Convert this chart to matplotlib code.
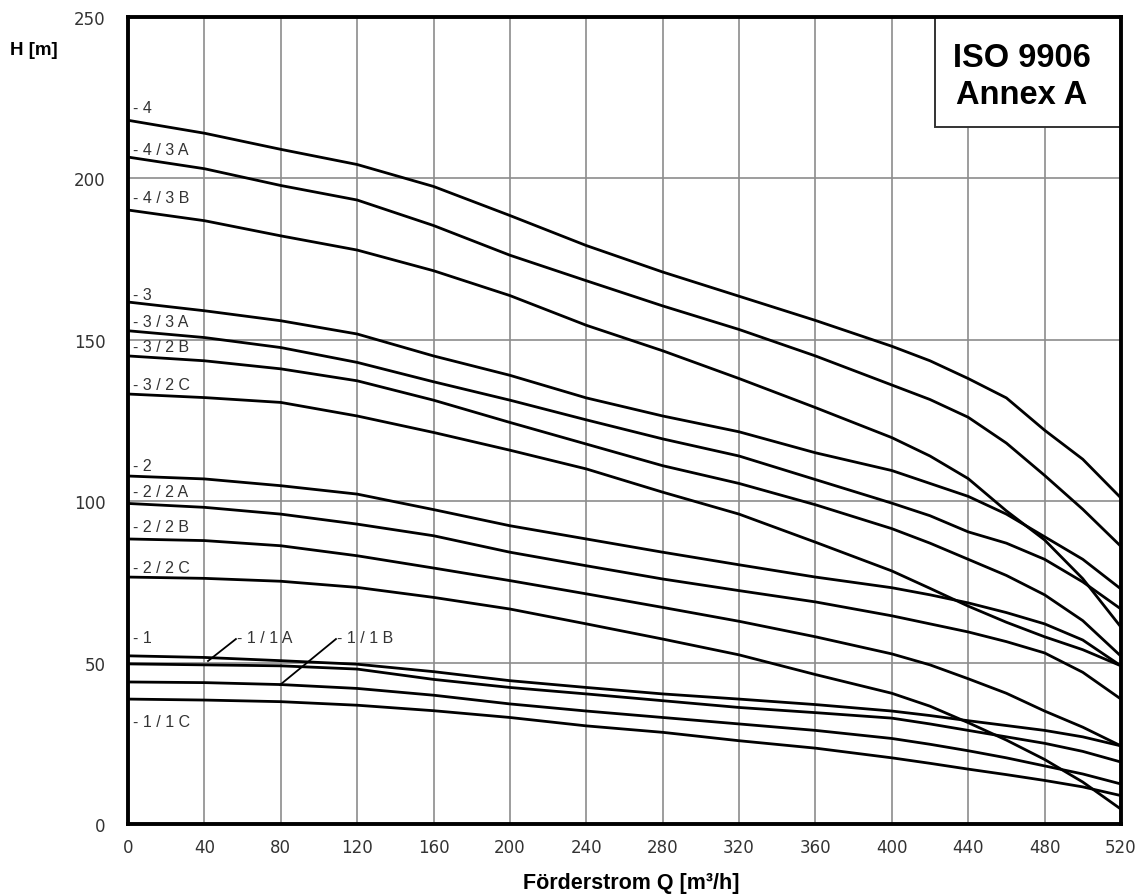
import matplotlib
matplotlib.use("Agg")
import matplotlib.pyplot as plt
from matplotlib.patches import Rectangle

# flow rate Q [m3/h] where the head values were read
q = [0, 40, 80, 120, 160, 200, 240, 280, 320, 360, 400, 420, 440, 460, 480, 500, 520]

h_4 = [218, 214, 209, 204.3, 197.5, 188.5, 179.2, 171, 163.5, 156, 148, 143.5, 138, 132, 122, 113, 101]
h_4_3a = [206.6, 203, 197.8, 193.3, 185.4, 176.2, 168.3, 160.5, 153.2, 145, 136, 131.5, 126, 118, 108, 97.5, 86]
h_4_3b = [190.2, 186.9, 182.2, 177.8, 171.4, 163.7, 154.5, 146.6, 138, 129, 119.7, 114, 107, 97, 88, 76, 61]
h_3 = [161.7, 159, 155.9, 151.8, 145, 139, 132, 126.4, 121.5, 115, 109.5, 105.5, 101.5, 96, 89, 82, 72.8]
h_3_3a = [152.8, 150.7, 147.6, 143, 137, 131.3, 125.2, 119.3, 114, 106.7, 99.4, 95.5, 90.5, 87, 82, 75, 66.6]
h_3_2b = [145, 143.5, 141, 137.3, 131.3, 124.4, 117.7, 111, 105.5, 98.9, 91.5, 87, 82, 77, 71, 63, 52]
h_3_2c = [133.2, 132.1, 130.6, 126.4, 121.3, 115.8, 110, 102.8, 96, 87.3, 78.4, 73, 67.5, 62.5, 58, 54, 49]
h_2 = [107.8, 106.9, 104.8, 102.2, 97.4, 92.4, 88.3, 84.2, 80.3, 76.5, 73.2, 71, 68.5, 65.5, 62, 57, 49]
h_2_2a = [99.3, 98.1, 96, 92.9, 89.3, 84.2, 80, 75.9, 72.3, 68.8, 64.5, 62, 59.5, 56.5, 53, 47, 38.7]
h_2_2b = [88.3, 87.8, 86.2, 83.1, 79.3, 75.4, 71.3, 67.1, 62.8, 58, 52.7, 49.3, 45, 40.5, 35, 30, 24.2]
h_2_2c = [76.5, 76.1, 75.2, 73.3, 70.2, 66.6, 62, 57.3, 52.4, 46.3, 40.5, 36.5, 31.4, 26, 20, 13, 4.6]
h_1 = [52.1, 51.6, 50.6, 49.5, 47.2, 44.4, 42.3, 40.3, 38.7, 37, 35, 33.6, 32, 30.5, 29, 27, 24.2]
h_1_1a = [49.6, 49.3, 49, 48, 44.8, 42.3, 40.3, 38.2, 36.1, 34.5, 32.8, 31, 29, 27, 25, 22.5, 19.2]
h_1_1b = [44, 43.8, 43.2, 42, 39.9, 37.2, 35, 33, 31, 29, 26.5, 24.7, 22.7, 20.5, 18, 15.5, 12.4]
h_1_1c = [38.7, 38.4, 37.9, 36.8, 35.1, 33, 30.4, 28.4, 25.8, 23.5, 20.5, 18.8, 17, 15.3, 13.5, 11.5, 8.8]

curves = [h_4, h_4_3a, h_4_3b, h_3, h_3_3a, h_3_2b, h_3_2c,
          h_2, h_2_2a, h_2_2b, h_2_2c, h_1, h_1_1a, h_1_1b, h_1_1c]

# curve names written at the left edge and the head where each sits
names = ["- 4", "- 4 / 3 A", "- 4 / 3 B", "- 3", "- 3 / 3 A", "- 3 / 2 B", "- 3 / 2 C",
         "- 2", "- 2 / 2 A", "- 2 / 2 B", "- 2 / 2 C", "- 1", "- 1 / 1 C"]
name_h = [222.1, 209.1, 194.2, 163.9, 155.8, 147.8, 136, 111.2, 102.9, 92.3, 79.6, 57.9, 31.9]

x_ticks = list(range(0, 521, 40))
y_ticks = [0, 50, 100, 150, 200, 250]

fig = plt.figure(figsize=(11.45, 8.95), dpi=100)
ax = fig.add_axes([0.1118, 0.0782, 0.8672, 0.9017])

for h in curves:
    ax.plot(q, h, color="black", lw=2.0, solid_joinstyle="round",
            solid_capstyle="round", zorder=3)

ax.set_xlim(0, 520)
ax.set_ylim(0, 250)
ax.set_xticks(x_ticks)
ax.set_yticks(y_ticks)
ax.grid(True, color="#8c8c8c", lw=1.2)
ax.set_axisbelow(True)
ax.tick_params(length=0, labelsize=12, colors="#333333")
ax.tick_params(axis="y", pad=16)
ax.tick_params(axis="x", pad=10)
for side in ["left", "bottom", "right", "top"]:
    ax.spines[side].set_linewidth(2.8)
    ax.spines[side].set_zorder(7)

lab_font = dict(fontsize=11.5, color="#333333", va="center", family="Liberation Sans")
for label, yv in zip(names, name_h):
    ax.text(2.5, yv, label, ha="left", zorder=4, **lab_font)

# the two labels reached by leader lines
ax.text(57, 57.9, "- 1 / 1 A", **lab_font)
ax.plot([41.9, 56.5], [50.5, 57.3], color="black", lw=1.3)
ax.text(109.5, 57.9, "- 1 / 1 B", **lab_font)
ax.plot([79.6, 108.9], [43.1, 57.3], color="black", lw=1.3)

# note box hanging from the top right corner
ax.add_patch(Rectangle((0.8127, 0.8637), 0.1873, 0.1363, transform=ax.transAxes,
                       fc="white", ec="#333333", lw=1.4, zorder=5))
ax.text(0.9003, 0.927, "ISO 9906\nAnnex A", transform=ax.transAxes, ha="center",
        va="center", multialignment="center", fontsize=23.5, fontweight="bold",
        family="Liberation Sans", linespacing=1.25, zorder=6)

fig.text(0.009, 0.944, "H [m]", fontsize=13.5, fontweight="bold",
         family="Liberation Sans", va="center")
fig.text(0.551, 0.0123, "Förderstrom Q [m³/h]", fontsize=15.5, fontweight="bold",
         family="Liberation Sans", ha="center", va="center")

fig.savefig("out.png", dpi=100)
